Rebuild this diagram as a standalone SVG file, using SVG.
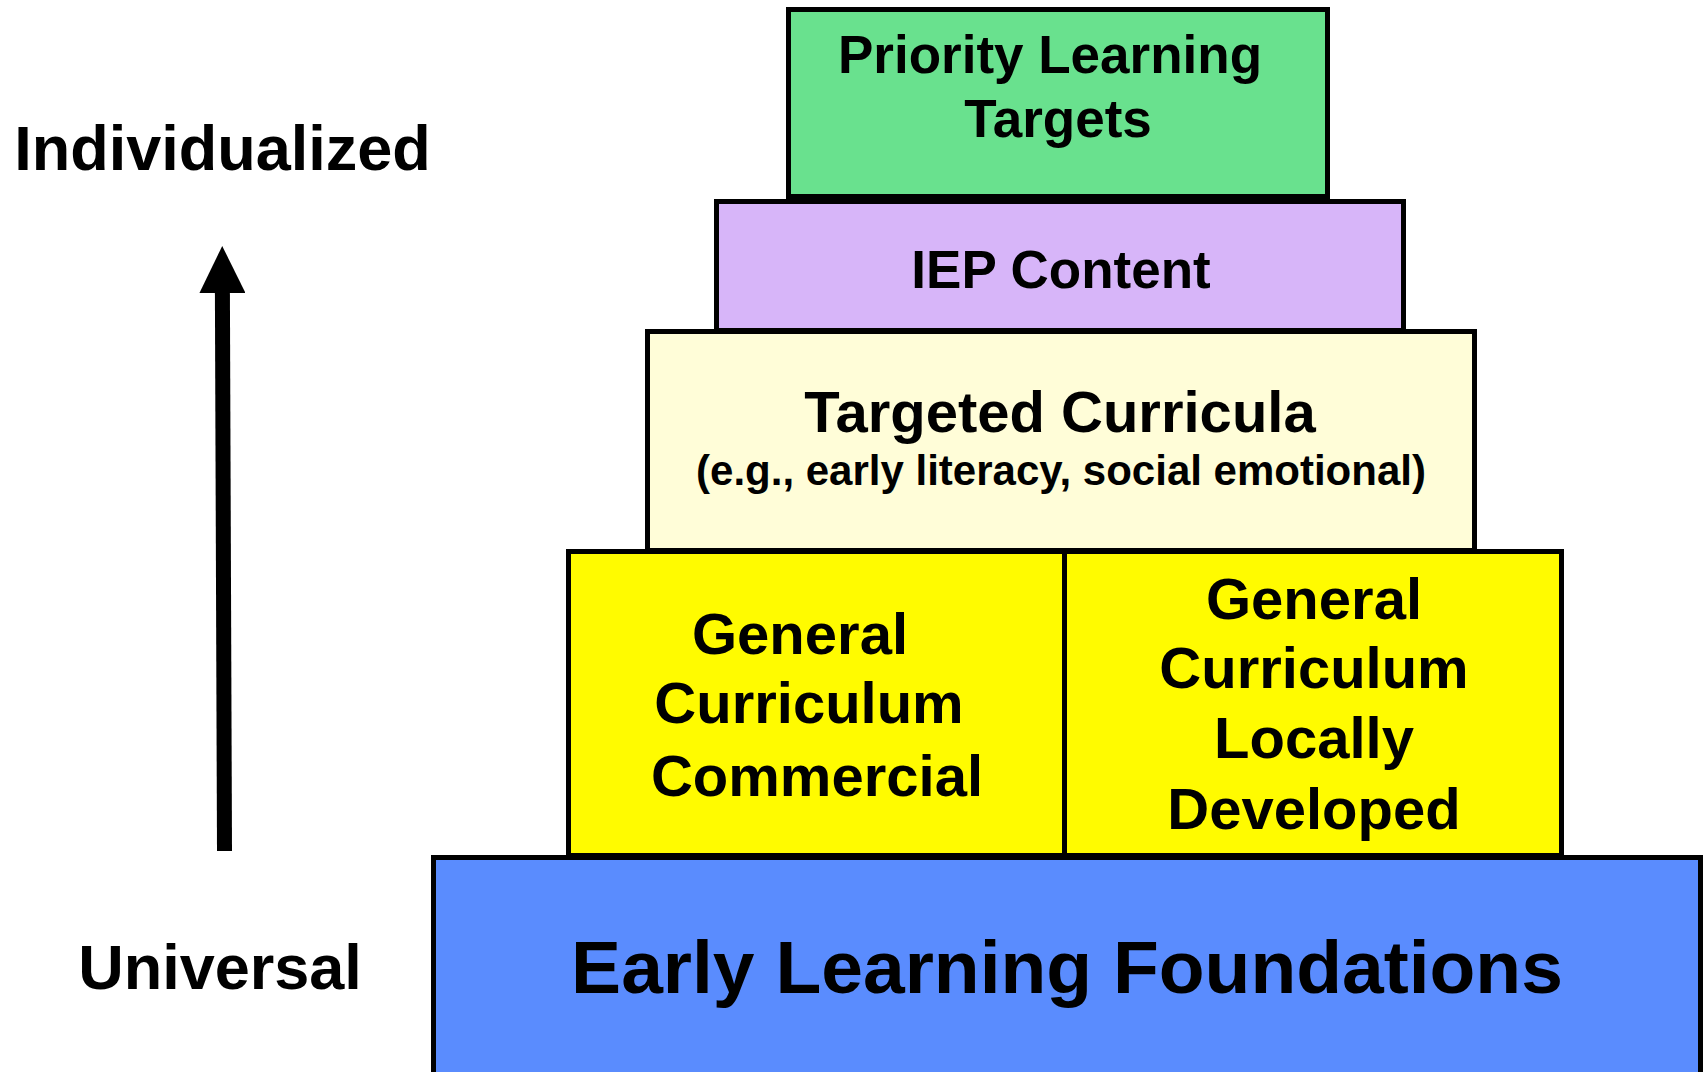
<svg xmlns="http://www.w3.org/2000/svg" width="1704" height="1072" viewBox="0 0 1704 1072">
  <style>
    .tier { stroke: #000; stroke-width: 5; }
    .lbl { font-family: "Liberation Sans", Arial, Helvetica, sans-serif; font-weight: bold; fill: #000; text-anchor: middle; }
    .axis { font-size: 63px; }
    .t53 { font-size: 53px; }
    .t58 { font-size: 58px; }
  </style>
  <defs>
    <marker id="arrowhead" markerUnits="userSpaceOnUse" markerWidth="48" markerHeight="46" refX="1" refY="23" orient="auto">
      <path d="M0,0 L47,23 L0,46 Z" fill="#000"/>
    </marker>
  </defs>

  <rect width="1704" height="1072" fill="#fff"/>

  <!-- Axis labels -->
  <g id="label-individualized">
    <text class="lbl axis" x="222.5" y="170">Individualized</text>
  </g>
  <g id="label-universal">
    <text class="lbl axis" x="220" y="989">Universal</text>
  </g>

  <!-- Pyramid tiers, bottom to top -->
  <g id="early-learning-foundations">
    <rect class="tier" x="433.5" y="857.5" width="1267" height="230" fill="#5A8CFE"/>
    <text class="lbl" x="1067" y="993" font-size="75">Early Learning Foundations</text>
  </g>

  <g id="general-curriculum-commercial">
    <rect class="tier" x="568.5" y="551.5" width="496" height="304" fill="#FFFB00"/>
    <text class="lbl t58" x="800" y="654">General</text>
    <text class="lbl t58" x="809" y="723">Curriculum</text>
    <text class="lbl t58" x="817" y="796">Commercial</text>
  </g>

  <g id="general-curriculum-local">
    <rect class="tier" x="1064.5" y="551.5" width="497" height="304" fill="#FFFB00"/>
    <text class="lbl t58" x="1314" y="619">General</text>
    <text class="lbl t58" x="1314" y="688">Curriculum</text>
    <text class="lbl t58" x="1314" y="758">Locally</text>
    <text class="lbl t58" x="1314" y="829">Developed</text>
  </g>

  <g id="targeted-curricula">
    <rect class="tier" x="647.5" y="331.5" width="827" height="219" fill="#FFFDD8"/>
    <text class="lbl t58" x="1060" y="432">Targeted Curricula</text>
    <text class="lbl" x="1061" y="485" font-size="42">(e.g., early literacy, social emotional)</text>
  </g>

  <g id="iep-content">
    <rect class="tier" x="716.5" y="201.5" width="687" height="129" fill="#D7B5F9"/>
    <text class="lbl t53" x="1061" y="288">IEP Content</text>
  </g>

  <g id="priority-learning-targets">
    <rect class="tier" x="788.5" y="9.5" width="539" height="187" fill="#69E18E"/>
    <text class="lbl t53" x="1050" y="73">Priority Learning</text>
    <text class="lbl t53" x="1058" y="137">Targets</text>
  </g>

  <!-- Upward axis arrow -->
  <g id="connectors">
    <line x1="224.5" y1="851" x2="222.4" y2="292" stroke="#000" stroke-width="15" marker-end="url(#arrowhead)"/>
  </g>
</svg>
